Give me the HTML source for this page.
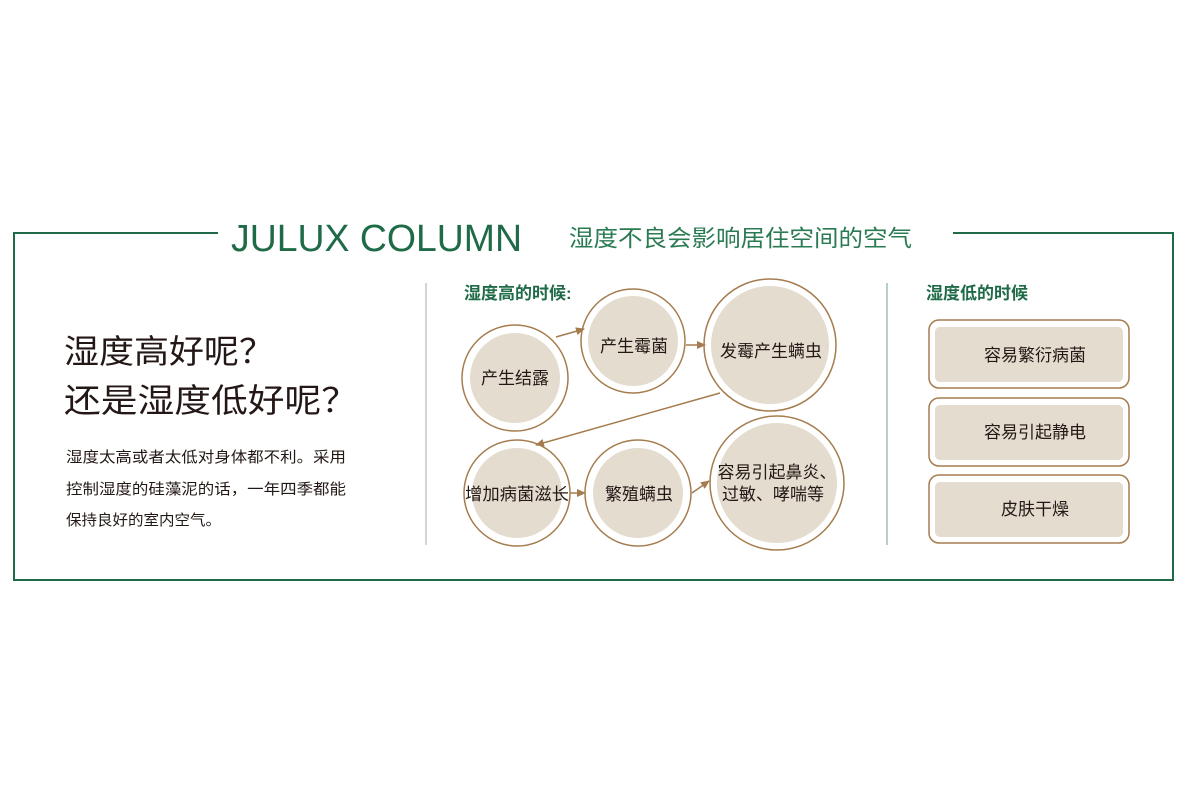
<!DOCTYPE html>
<html><head><meta charset="utf-8"><style>
html,body{margin:0;padding:0;background:#fff;}
svg{display:block;}
text{font-family:"Liberation Sans","Noto Sans CJK SC",sans-serif;}
</style></head><body>
<svg width="1200" height="800" viewBox="0 0 1200 800" xmlns="http://www.w3.org/2000/svg">
<defs>
<marker id="ah" markerWidth="10" markerHeight="10" refX="8" refY="5" orient="auto" markerUnits="userSpaceOnUse">
<path d="M0,1 L9,5 L0,9 Z" fill="#a57c4e"/>
</marker>
</defs>
<g stroke="#1f6b47" stroke-width="2" fill="none">
<path d="M218,233 H14 V580 H1173 V233 H953"/>
</g>
<text x="231" y="251" font-size="38" fill="#1f6b47" textLength="291" lengthAdjust="spacingAndGlyphs">JULUX COLUMN</text>
<text x="569" y="246" font-size="23" fill="#2a7a52" textLength="343" lengthAdjust="spacingAndGlyphs">湿度不良会影响居住空间的空气</text>

<line x1="426" y1="283" x2="426" y2="545" stroke="#aaa" stroke-width="1"/>
<line x1="887" y1="283" x2="887" y2="545" stroke="#9fc4b2" stroke-width="1.5"/>

<text x="64" y="363" font-size="33" fill="#231815" textLength="210" lengthAdjust="spacingAndGlyphs">湿度高好呢？</text>
<text x="64" y="412" font-size="33" fill="#231815" textLength="294" lengthAdjust="spacingAndGlyphs">还是湿度低好呢？</text>
<g font-size="15" fill="#231815">
<text x="66" y="462" textLength="280" lengthAdjust="spacingAndGlyphs">湿度太高或者太低对身体都不利。采用</text>
<text x="66" y="494" textLength="280" lengthAdjust="spacingAndGlyphs">控制湿度的硅藻泥的话，一年四季都能</text>
<text x="66" y="525" textLength="155" lengthAdjust="spacingAndGlyphs">保持良好的室内空气。</text>
</g>

<text x="464" y="299" font-size="17" font-weight="bold" fill="#1f6b47">湿度高的时候:</text>
<text x="926" y="299" font-size="17" font-weight="bold" fill="#1f6b47">湿度低的时候</text>

<g fill="#e3dccf" stroke="#a57c4e" stroke-width="1.5">
<circle cx="515" cy="378" r="53" fill="#fff"/><circle cx="515" cy="378" r="45" stroke="none"/>
<circle cx="633" cy="341" r="52" fill="#fff"/><circle cx="633" cy="341" r="45" stroke="none"/>
<circle cx="770" cy="345" r="66" fill="#fff"/><circle cx="770" cy="345" r="59" stroke="none"/>
<circle cx="517" cy="493" r="53" fill="#fff"/><circle cx="517" cy="493" r="45" stroke="none"/>
<circle cx="638" cy="493" r="53" fill="#fff"/><circle cx="638" cy="493" r="45" stroke="none"/>
<circle cx="777" cy="483" r="67" fill="#fff"/><circle cx="777" cy="483" r="60" stroke="none"/>
</g>
<g stroke="#a57c4e" stroke-width="1.5" marker-end="url(#ah)">
<line x1="556" y1="337" x2="584" y2="329"/>
<line x1="686" y1="345" x2="705" y2="345"/>
<line x1="720" y1="393" x2="536" y2="445"/>
<line x1="570" y1="493" x2="585" y2="493"/>
<line x1="692" y1="493" x2="709" y2="481"/>
</g>
<g font-size="17" fill="#231815" text-anchor="middle">
<text x="515" y="384">产生结露</text>
<text x="634" y="352">产生霉菌</text>
<text x="771" y="357">发霉产生螨虫</text>
<text x="517" y="500" textLength="104" lengthAdjust="spacingAndGlyphs">增加病菌滋长</text>
<text x="639" y="500">繁殖螨虫</text>
<text x="777" y="478">容易引起鼻炎、</text>
<text x="773" y="500">过敏、哮喘等</text>
</g>

<g fill="#fff" stroke="#a57c4e" stroke-width="1.5">
<rect x="929" y="320" width="200" height="68" rx="10"/>
<rect x="929" y="398" width="200" height="68" rx="10"/>
<rect x="929" y="475" width="200" height="68" rx="10"/>
</g>
<g fill="#e3dccf">
<rect x="935" y="327" width="188" height="55" rx="5"/>
<rect x="935" y="405" width="188" height="55" rx="5"/>
<rect x="935" y="482" width="188" height="55" rx="5"/>
</g>
<g font-size="17" fill="#231815" text-anchor="middle">
<text x="1035" y="361">容易繁衍病菌</text>
<text x="1035" y="438">容易引起静电</text>
<text x="1035" y="515">皮肤干燥</text>
</g>
</svg>
</body></html>
